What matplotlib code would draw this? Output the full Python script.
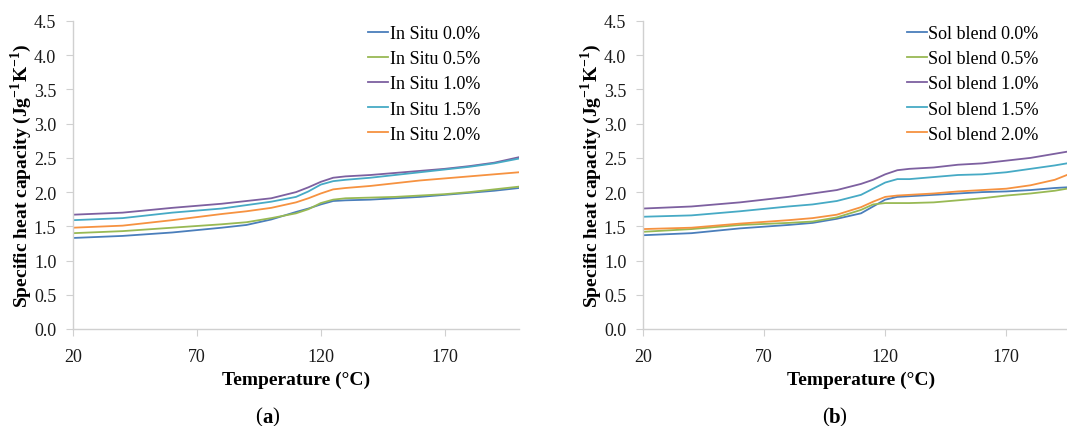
import numpy as np
import matplotlib
matplotlib.use("Agg")
import matplotlib.pyplot as plt

plt.rcParams['font.family'] = ['Liberation Serif', 'DejaVu Serif']
plt.rcParams['mathtext.fontset'] = 'custom'
plt.rcParams['mathtext.rm'] = 'Liberation Serif'
plt.rcParams['mathtext.bf'] = 'Liberation Serif:bold'

# temperatures (°C) of the read-off points
temp_a = [20, 40, 60, 80, 90, 100, 110, 115, 120, 125, 130, 140, 150, 160, 170, 180, 190, 200]
temp_b = [20, 40, 60, 80, 90, 100, 110, 115, 120, 125, 130, 140, 150, 160, 170, 180, 190, 195]

# (a) In Situ, specific heat capacity (J/gK)
insitu_00 = [1.33, 1.36, 1.41, 1.48, 1.52, 1.60, 1.71, 1.76, 1.82, 1.87, 1.88, 1.89, 1.91, 1.93, 1.96, 1.99, 2.02, 2.06]
insitu_05 = [1.40, 1.43, 1.48, 1.53, 1.56, 1.62, 1.69, 1.75, 1.84, 1.89, 1.91, 1.92, 1.93, 1.95, 1.97, 2.00, 2.04, 2.08]
insitu_10 = [1.67, 1.70, 1.77, 1.83, 1.87, 1.91, 2.00, 2.07, 2.15, 2.21, 2.23, 2.25, 2.28, 2.31, 2.34, 2.38, 2.43, 2.51]
insitu_15 = [1.59, 1.62, 1.70, 1.76, 1.81, 1.86, 1.93, 2.01, 2.11, 2.16, 2.18, 2.21, 2.25, 2.29, 2.33, 2.37, 2.42, 2.49]
insitu_20 = [1.48, 1.51, 1.59, 1.68, 1.72, 1.77, 1.85, 1.91, 1.98, 2.04, 2.06, 2.09, 2.13, 2.17, 2.20, 2.23, 2.26, 2.29]

# (b) Sol blend
sol_00 = [1.37, 1.40, 1.47, 1.52, 1.55, 1.61, 1.69, 1.79, 1.89, 1.93, 1.94, 1.96, 1.98, 2.00, 2.01, 2.03, 2.06, 2.07]
sol_05 = [1.42, 1.46, 1.52, 1.55, 1.57, 1.63, 1.74, 1.82, 1.84, 1.84, 1.84, 1.85, 1.88, 1.91, 1.95, 1.98, 2.02, 2.05]
sol_10 = [1.76, 1.79, 1.85, 1.93, 1.98, 2.03, 2.12, 2.18, 2.26, 2.32, 2.34, 2.36, 2.40, 2.42, 2.46, 2.50, 2.56, 2.59]
sol_15 = [1.64, 1.66, 1.72, 1.79, 1.82, 1.87, 1.96, 2.05, 2.14, 2.19, 2.19, 2.22, 2.25, 2.26, 2.29, 2.34, 2.39, 2.42]
sol_20 = [1.46, 1.48, 1.54, 1.59, 1.62, 1.67, 1.78, 1.86, 1.93, 1.95, 1.96, 1.98, 2.01, 2.03, 2.05, 2.10, 2.18, 2.25]

loadings = ['0.0%', '0.5%', '1.0%', '1.5%', '2.0%']
colors = ['#4A7EBB', '#98B954', '#7D60A0', '#46AAC5', '#F69240']

fig = plt.figure(figsize=(10.67, 4.27), dpi=100)
ax1 = fig.add_axes([73/1067, 97/427, 446/1067, 308/427])
ax2 = fig.add_axes([643/1067, 97/427, 436/1067, 308/427])

panels = [
    (ax1, temp_a, [insitu_00, insitu_05, insitu_10, insitu_15, insitu_20], 'In Situ', 0.93),
    (ax2, temp_b, [sol_00, sol_05, sol_10, sol_15, sol_20], 'Sol blend', 0.925),
]

for ax, temp, series, name, leg_x in panels:
    for vals, lab, c in zip(series, loadings, colors):
        ax.plot(temp, vals, color=c, lw=1.3, label=name + ' ' + lab)
    ax.set_xlim(20, 200)
    ax.set_ylim(0, 4.5)
    ax.set_xticks([20, 70, 120, 170])
    ax.set_yticks(np.arange(0, 4.51, 0.5))
    ax.set_yticklabels(['%.1f' % v for v in np.arange(0, 4.51, 0.5)])
    for s in ['top', 'right']:
        ax.spines[s].set_visible(False)
    for s in ['left', 'bottom']:
        ax.spines[s].set_color('#D0D0D0')
        ax.spines[s].set_linewidth(1.0)
    ax.tick_params(axis='both', direction='out', length=5, color='#D0D0D0',
                   labelsize=13, labelcolor='#1a1a1a')
    ax.tick_params(axis='y', pad=7)
    ax.tick_params(axis='x', pad=9)
    ax.set_xlabel('Temperature (°C)', fontsize=14, fontweight='bold', labelpad=4)
    ax.set_ylabel(r'Specific heat capacity (Jg$^{\mathbf{-1}}$K$^{\mathbf{-1}}$)',
                  fontsize=14, fontweight='bold', labelpad=0)
    ax.legend(loc='upper right', bbox_to_anchor=(leg_x, 1.01), frameon=False,
              fontsize=13, handlelength=1.1, handletextpad=0.1, labelspacing=0.45,
              borderaxespad=0)

fig.text(262/1067, 1 - 418/427, '(', fontsize=15, ha='right', va='center')
fig.text(262/1067, 1 - 418/427, 'a', fontsize=15, fontweight='bold', ha='left', va='center')
fig.text(272/1067, 1 - 418/427, ')', fontsize=15, ha='left', va='center')
fig.text(829/1067, 1 - 418/427, '(', fontsize=15, ha='right', va='center')
fig.text(829/1067, 1 - 418/427, 'b', fontsize=15, fontweight='bold', ha='left', va='center')
fig.text(839/1067, 1 - 418/427, ')', fontsize=15, ha='left', va='center')

fig.savefig('out.png', dpi=100)
